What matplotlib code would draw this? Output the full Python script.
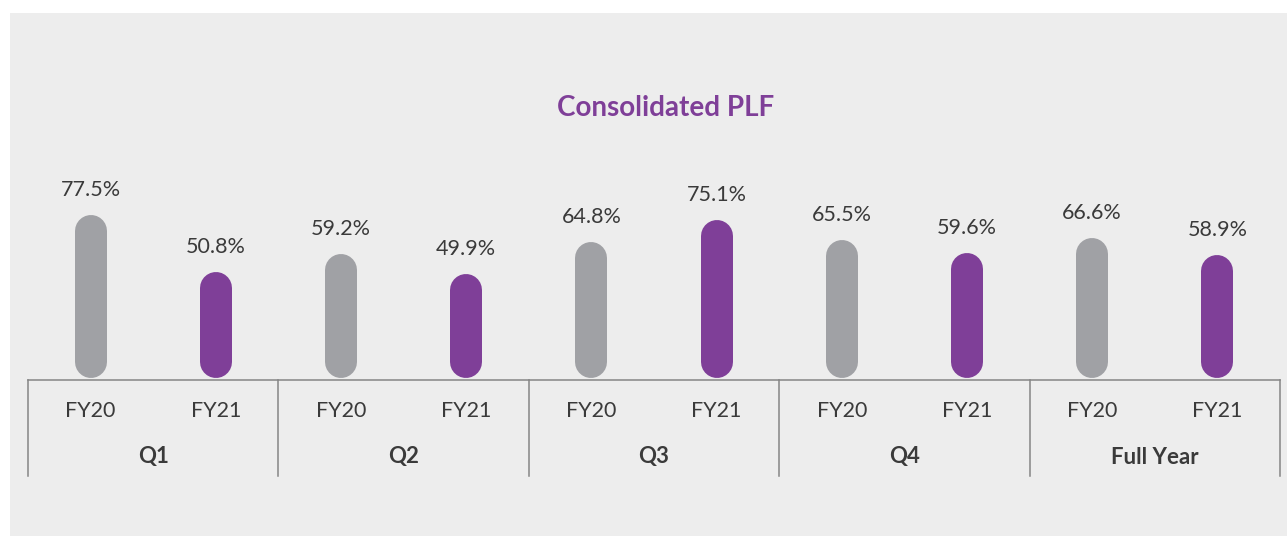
import matplotlib.pyplot as plt
from matplotlib.patches import Rectangle

groups = ['Q1', 'Q2', 'Q3', 'Q4', 'Full Year']
years = ['FY20', 'FY21']
fy20 = [77.5, 59.2, 64.8, 65.5, 66.6]
fy21 = [50.8, 49.9, 75.1, 59.6, 58.9]

GREY = '#a0a1a5'
PURPLE = '#7f3f98'
BG = '#ededed'
TEXT = '#3a3a3a'
LINE = '#858585'

plt.rcParams['font.family'] = ['Lato', 'DejaVu Sans']

W, H = 1287, 536
fig = plt.figure(figsize=(W / 100, H / 100), dpi=100)
fig.patch.set_facecolor('white')
fig.patches.append(Rectangle((10 / W, 0), 1 - 10 / W, 1 - 13 / H,
                             transform=fig.transFigure, facecolor=BG,
                             edgecolor='none', zorder=-10))

# axes spans the bar area; baseline at y=0
ax_left, ax_right = 28, 1280
base_px, top_px = 380, 167
ax = fig.add_axes([ax_left / W, (H - base_px) / H,
                   (ax_right - ax_left) / W, (base_px - top_px) / H])
ax.set_xlim(-0.5, 9.5)
ax.set_ylim(0, 100)
ax.axis('off')
ax.patch.set_alpha(0)

px_per_unit = (base_px - top_px) / 100.0
bar_px = 32
r = (bar_px / 2) / px_per_unit
lw = bar_px * 72 / 100

for g in range(len(groups)):
    for k, (vals, col) in enumerate([(fy20, GREY), (fy21, PURPLE)]):
        x = g * 2 + k
        v = vals[g]
        ax.plot([x, x], [r + 1, v - r], color=col, lw=lw,
                solid_capstyle='round', clip_on=False)
        ax.annotate(f'{v}%', (x, v), xytext=(0, 25), textcoords='offset pixels',
                    ha='center', va='center', fontsize=15.5, color=TEXT)
        ax.text(x, -31 / px_per_unit, years[k], ha='center', va='center',
                fontsize=15.5, color=TEXT, clip_on=False)
    ax.text(g * 2 + 0.5, -77 / px_per_unit, groups[g], ha='center', va='center',
            fontsize=16, fontweight='bold', color=TEXT, clip_on=False)

# baseline and group dividers
ax.plot([-0.5, 9.5], [0, 0], color=LINE, lw=1.1, clip_on=False)
for d in [-0.5, 1.5, 3.5, 5.5, 7.5, 9.5]:
    ax.plot([d, d], [0, -96 / px_per_unit], color=LINE, lw=1.1, clip_on=False)

fig.text(666 / W, 1 - 108 / H, 'Consolidated PLF', ha='center', va='center',
         fontsize=20, fontweight='bold', color=PURPLE)

fig.savefig('out.png', dpi=100, facecolor=fig.get_facecolor())
